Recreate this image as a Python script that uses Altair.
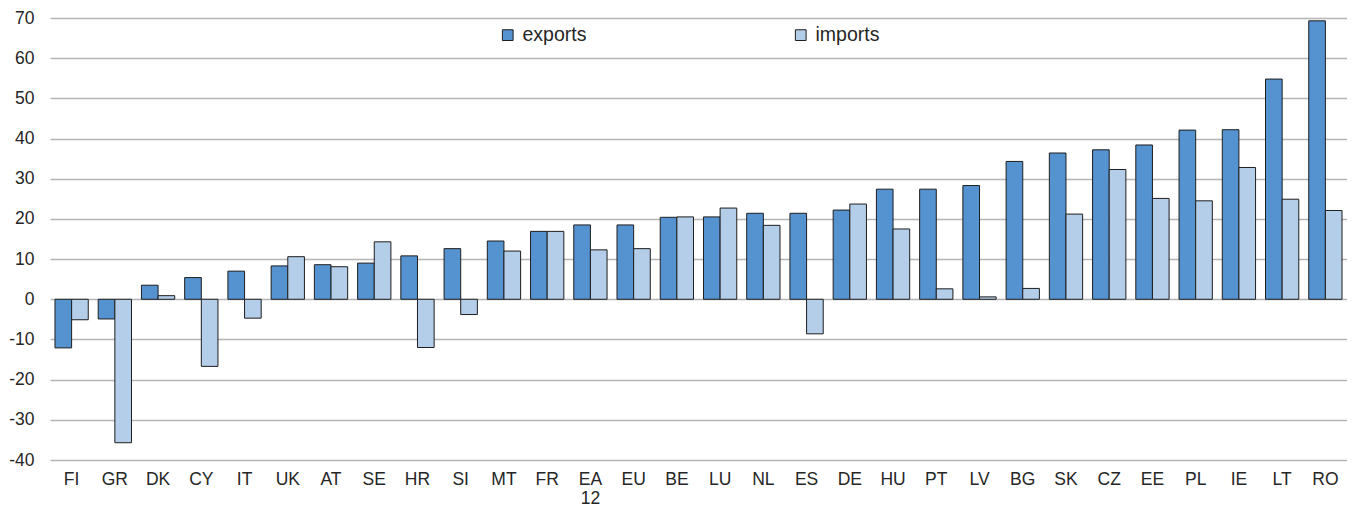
import altair as alt
import pandas as pd

countries = ["FI", "GR", "DK", "CY", "IT", "UK", "AT", "SE", "HR", "SI",
             "MT", "FR", "EA12", "EU", "BE", "LU", "NL", "ES", "DE", "HU",
             "PT", "LV", "BG", "SK", "CZ", "EE", "PL", "IE", "LT", "RO"]
exports = [-12.1, -4.9, 3.5, 5.4, 7.0, 8.3, 8.6, 9.0, 10.8, 12.6,
           14.5, 16.9, 18.5, 18.5, 20.4, 20.5, 21.4, 21.4, 22.2, 27.4,
           27.4, 28.3, 34.3, 36.4, 37.2, 38.4, 42.1, 42.2, 54.8, 69.3]
imports = [-5.1, -35.7, 0.9, -16.7, -4.7, 10.6, 8.1, 14.3, -12.0, -3.8,
           12.0, 16.9, 12.3, 12.6, 20.5, 22.7, 18.4, -8.6, 23.7, 17.5,
           2.6, 0.6, 2.7, 21.2, 32.3, 25.1, 24.5, 32.8, 24.9, 22.1]
series = ["exports", "imports"]
colors = ["#5592D0", "#B4CDE8"]
y_ticks = [-40, -30, -20, -10, 0, 10, 20, 30, 40, 50, 60, 70]

rows = []
for c, e, i in zip(countries, exports, imports):
    rows.append({"country": c, "series": "exports", "value": e})
    rows.append({"country": c, "series": "imports", "value": i})
df = pd.DataFrame(rows)

font = "Liberation Sans"
text_color = "#262626"

chart = alt.Chart(df).mark_bar(stroke="#1e1e1e", strokeWidth=1).encode(
    x=alt.X(
        "country:N", sort=countries,
        scale=alt.Scale(paddingInner=0.23, paddingOuter=0.115),
        axis=alt.Axis(
            title=None, labelAngle=0, ticks=False, domain=False, grid=False,
            labelPadding=10, labelFontSize=17.5, labelFont=font,
            labelColor=text_color, labelLineHeight=19, labelOverlap=False,
            labelExpr="datum.value == 'EA12' ? ['EA', '12'] : datum.value",
        ),
    ),
    xOffset=alt.XOffset("series:N", sort=series),
    y=alt.Y(
        "value:Q",
        scale=alt.Scale(domain=[-40, 70], nice=False),
        axis=alt.Axis(
            title=None, values=y_ticks, ticks=False, domain=False, grid=True,
            gridColor="#B5B5B5", gridWidth=1.3,
            labelPadding=16, labelFontSize=17.5, labelFont=font,
            labelColor=text_color, labelExpr="'' + datum.value",
        ),
    ),
    color=alt.Color(
        "series:N",
        scale=alt.Scale(domain=series, range=colors),
        legend=alt.Legend(
            title=None, orient="none", legendX=448, legendY=7,
            direction="horizontal", columns=2, columnPadding=204,
            symbolType="square", symbolSize=115,
            symbolStrokeColor="#1e1e1e", symbolStrokeWidth=1,
            labelFontSize=19.5, labelFont=font, labelColor=text_color,
            labelOffset=5,
        ),
    ),
).properties(
    width=1297, height=442,
    autosize=alt.AutoSizeParams(type="none"),
    padding={"left": 42, "top": 10, "right": 0, "bottom": 46},
).configure_view(stroke=None)

chart.save("out.html", embed_options={"renderer": "svg", "actions": False})
